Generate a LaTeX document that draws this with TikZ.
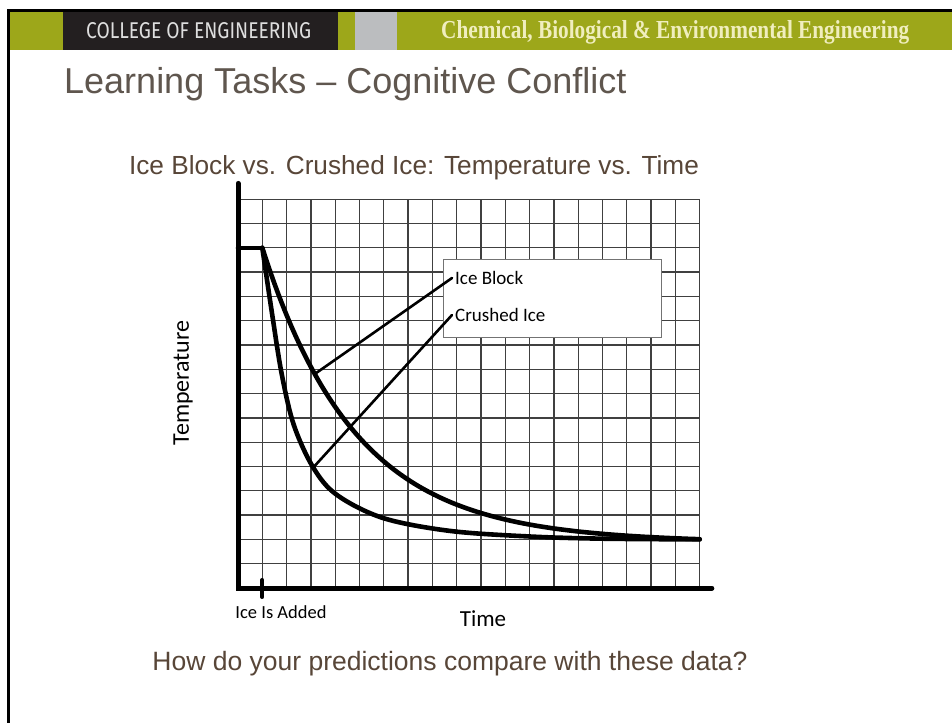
\documentclass[tikz,border=0pt]{standalone}
\usepackage{fontspec}
\setmainfont{Liberation Sans}
\newfontfamily\calib{Carlito}
\newfontfamily\hdrserif{Liberation Serif}
\newfontfamily\hdrsans{Fira Sans}
\definecolor{olive}{RGB}{157,167,26}
\definecolor{darkband}{RGB}{35,31,32}
\definecolor{grayband}{RGB}{187,189,191}
\definecolor{hdrtxt}{RGB}{222,222,222}
\definecolor{hdrserif}{RGB}{240,238,190}
\definecolor{titlecol}{RGB}{95,86,78}
\definecolor{textcol}{RGB}{88,70,56}
\tikzset{
  gridline/.style={draw=black!75, line width=1.3pt},
  axisline/.style={draw=black, line width=5pt, line cap=round},
  curve/.style={draw=black, line width=4.6pt, line join=round, line cap=round},
  annot/.style={draw=black, line width=2.6pt, line cap=round},
  calibtxt/.style={font=\calib\fontsize{#1}{#1}\selectfont, text=black, inner sep=0pt},
}
\begin{document}
\begin{tikzpicture}[x=1pt,y=-1pt]
\useasboundingbox (0,0) rectangle (952,723);
\fill[white] (0,0) rectangle (952,723);
% header band
\fill[olive] (8,11) rectangle (952,50);
\fill[darkband] (63,11) rectangle (338,50);
\fill[grayband] (355,11) rectangle (397,50);
\fill[black] (7,9) rectangle (952,12);
\fill[black] (7,9) rectangle (9.5,723);
\node[anchor=west, inner sep=0pt, text=hdrtxt] (college) at (86,31) {\resizebox{225pt}{16pt}{\hdrsans\fontseries{l}\selectfont COLLEGE OF ENGINEERING}};
\node[anchor=west, inner sep=0pt, text=hdrserif] (dept) at (441,32) {\resizebox{468pt}{18pt}{\hdrserif\bfseries Chemical, Biological \& Environmental Engineering}};
% titles
\node[anchor=west, inner sep=0pt, text=titlecol, font=\fontsize{36}{40}\selectfont] (title) at (64,84) {Learning Tasks – Cognitive Conflict};
\node[inner sep=0pt, text=textcol, font=\fontsize{26.2}{30}\selectfont] (charttitle) at (414,168) {Ice Block vs. Crushed Ice: Temperature vs. Time};
\node[inner sep=0pt, text=textcol, font=\fontsize{26.5}{30}\selectfont] (question) at (450,664) {How do your predictions compare with these data?};
% chart
\begin{scope}[shift={(238,588)}, x=24.3pt, y=24.3pt]
  \draw[gridline, step=1] (0,0) grid (19,16);
  \draw[axisline] (0,16.65) -- (0,0) -- (19.5,0);
  \coordinate (ticktop) at (1,0.33);
  \coordinate (tickbot) at (1,-0.37);
  \draw[axisline, line width=4pt] (ticktop) -- (tickbot);
  \draw[curve] (0,14) -- (1,14);
  \draw[curve] plot[domain=1:19, samples=80, smooth] (\x, {2+12*exp(-0.262*(\x-1)) - 0.0055*(\x-1)});
  \draw[curve] plot[smooth, tension=0.55] coordinates {(1,14) (1.4,11.3) (1.8,8.8) (2.3,6.7) (3.1,4.95) (4.07,3.83) (5.97,2.88) (8.72,2.35) (12,2.12) (15,2.03) (19,2.0)};
  \coordinate (ibpt) at (3.15,8.8);
  \coordinate (cipt) at (3.08,4.94);
\end{scope}
% legend
\node[draw=black!55, fill=white, line width=1.2pt, minimum width=218pt, minimum height=78pt, inner sep=0pt, anchor=north west] (legend) at (443,259) {};
\node[calibtxt=19, anchor=west, inner xsep=3pt] (iblab) at (452,278) {Ice Block};
\node[calibtxt=19, anchor=west, inner xsep=3pt] (cilab) at (452,315) {Crushed Ice};
\draw[annot] (iblab.west) -- (ibpt);
\draw[annot] (cilab.west) -- (cipt);
% axis labels
\node[calibtxt=24, rotate=90] (ylab) at (183,383) {Temperature};
\node[calibtxt=23] (xlab) at (483,619) {Time};
\node[calibtxt=18.5] (added) at (281,612) {Ice Is Added};
\end{tikzpicture}
\end{document}
